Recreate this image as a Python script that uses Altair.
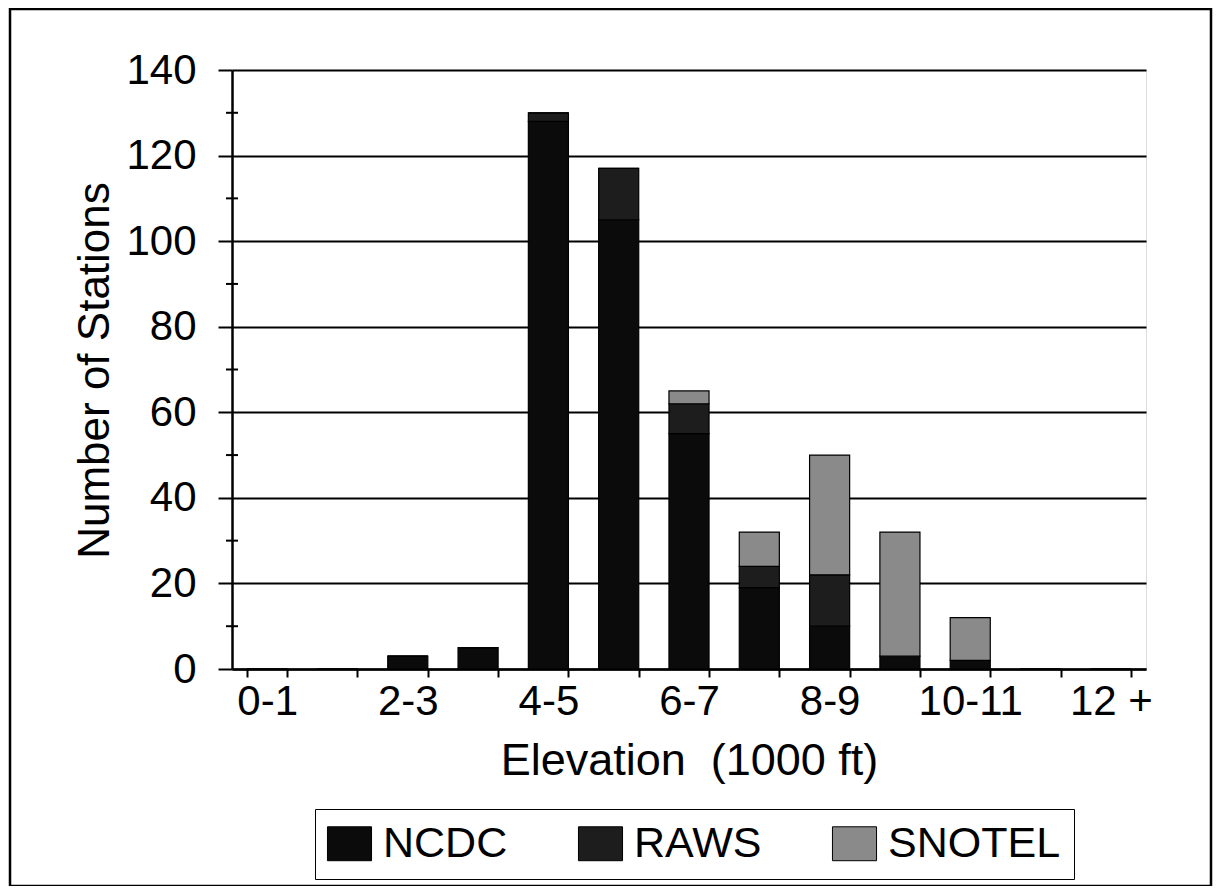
import altair as alt
import pandas as pd

categories = ["0-1", "1-2", "2-3", "3-4", "4-5", "5-6", "6-7",
              "7-8", "8-9", "9-10", "10-11", "11-12", "12 +"]
shown_labels = ["0-1", "2-3", "4-5", "6-7", "8-9", "10-11", "12 +"]
ncdc = [0, 0, 3, 5, 128, 105, 55, 19, 10, 3, 2, 0, 0]
raws = [0, 0, 0, 0, 2, 12, 7, 5, 12, 0, 0, 0, 0]
snotel = [0, 0, 0, 0, 0, 0, 3, 8, 28, 29, 10, 0, 0]
series = ["NCDC", "RAWS", "SNOTEL"]
series_colors = ["#0b0b0b", "#1d1d1d", "#8a8a8a"]
y_ticks = [0, 20, 40, 60, 80, 100, 120, 140]
y_minor_ticks = [10, 30, 50, 70, 90, 110, 130]

rows = []
for s_i, (name, vals) in enumerate(zip(series, [ncdc, raws, snotel])):
    for c, v in zip(categories, vals):
        rows.append({"elev": c, "source": name, "count": v, "order": s_i})
df = pd.DataFrame(rows)
minor_df = pd.DataFrame({"count": y_minor_ticks})

FONT = "Liberation Sans"
label_list = "[" + ",".join("'%s'" % s for s in shown_labels) + "]"

y_scale = alt.Scale(domain=[0, 140], nice=False)

bars = alt.Chart(df).mark_bar(stroke="black", strokeWidth=1.2).encode(
    x=alt.X("elev:N", sort=categories,
            scale=alt.Scale(paddingInner=0.43, paddingOuter=0.215),
            axis=alt.Axis(title="Elevation\u00a0\u00a0(1000 ft)", labelAngle=0,
                          labelExpr="indexof(%s, datum.value) >= 0 ? datum.label : ''" % label_list,
                          labelOverlap=False, labelFontSize=42, labelFont=FONT,
                          labelColor="black", labelPadding=4,
                          tickBand="extent", tickSize=8, tickWidth=2, tickColor="black",
                          domainColor="black", domainWidth=2.5,
                          titleFontSize=45, titleFont=FONT, titleFontWeight="normal",
                          titleColor="black", titlePadding=16)),
    y=alt.Y("count:Q", stack="zero", scale=y_scale,
            axis=alt.Axis(title="Number of Stations", values=y_ticks,
                          labelFontSize=42, labelFont=FONT, labelColor="black",
                          labelPadding=22, tickSize=14, tickWidth=2, tickColor="black",
                          domainColor="black", domainWidth=2.5,
                          grid=True, gridColor="black", gridWidth=2, gridOpacity=1,
                          titleFontSize=44, titleFont=FONT, titleFontWeight="normal",
                          titleColor="black", titleX=-124, titleY=300,
                          titleBaseline="alphabetic", titleAngle=270)),
    color=alt.Color("source:N", scale=alt.Scale(domain=series, range=series_colors),
                    legend=alt.Legend(title=None, orient="none", legendX=83, legendY=739,
                                      direction="horizontal", columns=3,
                                      labelFontSize=43, labelFont=FONT, labelColor="black",
                                      labelLimit=0,
                                      symbolType="M-1.3,-1H1.3V1H-1.3Z", symbolSize=1150,
                                      symbolStrokeColor="black", symbolStrokeWidth=1,
                                      labelOffset=12, columnPadding=68,
                                      strokeColor="black", padding=13)),
    order=alt.Order("order:Q", sort="ascending"),
)

minor = alt.Chart(minor_df).mark_tick(
    orient="horizontal", color="black", thickness=2, size=12, opacity=1).encode(
    y=alt.Y("count:Q", scale=y_scale), x=alt.value(0))

frame = alt.Chart(pd.DataFrame({"k": [0]})).mark_rect(
    fill=None, stroke="black", strokeWidth=2.5).encode(
    x=alt.value(-222), x2=alt.value(979), y=alt.value(-61), y2=alt.value(816))

chart = alt.layer(bars, minor, frame).properties(
    width=914, height=599,
    autosize=alt.AutoSizeParams(type="none"),
    padding={"left": 224, "top": 62, "right": 67, "bottom": 217},
).configure_view(stroke="black", strokeWidth=2).configure(background="white")

chart.save("out.html", embed_options={"renderer": "svg", "actions": False})
